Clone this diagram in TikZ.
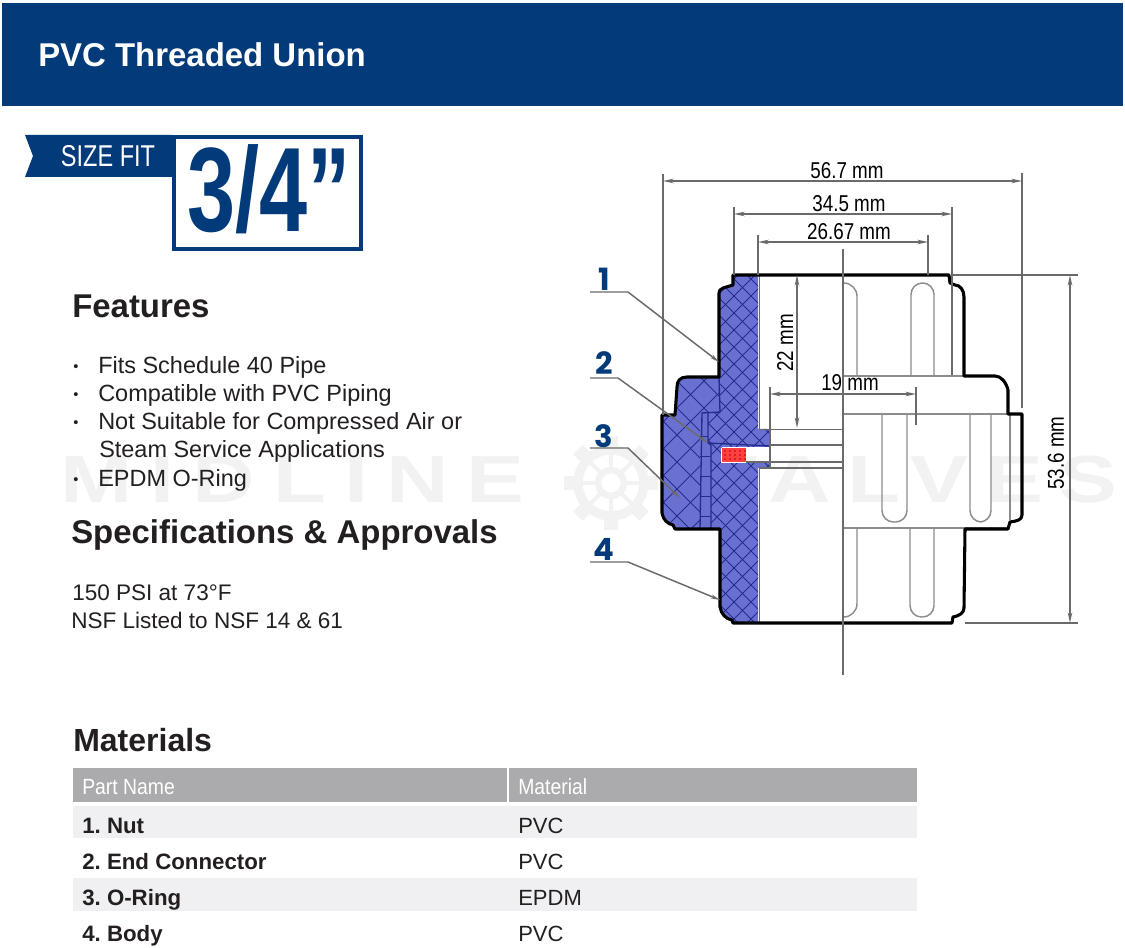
\documentclass[tikz,border=0pt]{standalone}
\usepackage{fontspec}
\setmainfont{Liberation Sans}
\newfontfamily\dimfont[FakeStretch=0.82]{Liberation Sans}
\newfontfamily\ribbonfont[FakeStretch=0.78]{Liberation Sans}
\newfontfamily\sizefont[FakeStretch=0.72]{Liberation Sans}
\newfontfamily\thfont[FakeStretch=0.88]{Liberation Sans}
\newfontfamily\partfont{Poppins}
\newfontfamily\markfont[FakeStretch=1.3,LetterSpace=27]{Liberation Sans}
\newfontfamily\markfontb[FakeStretch=1.3,LetterSpace=25]{Liberation Sans}
\usetikzlibrary{arrows.meta}
\frenchspacing
\definecolor{navy}{HTML}{023A7A}
\definecolor{inktext}{HTML}{231F20}
\definecolor{cutblue}{HTML}{6A70CF}
\definecolor{hatchblue}{HTML}{222C8E}
\definecolor{dimgrey}{HTML}{6A6A6A}
\definecolor{slotgrey}{HTML}{8C8C8C}
\definecolor{headgrey}{HTML}{ABABAD}
\definecolor{rowgrey}{HTML}{F0F0F2}
\definecolor{markgrey}{HTML}{F2F2F2}
\tikzset{
  txt/.style={anchor=base west,inner sep=0pt,text=inktext},
  listtxt/.style={txt,font=\fontsize{17.6}{20}\selectfont},
  spectxt/.style={txt,font=\fontsize{16.9}{20}\selectfont},
  bullettxt/.style={txt,font=\fontsize{11}{12}\selectfont},
  headtxt/.style={txt,font=\fontsize{24.7}{28}\selectfont\bfseries},
  rowtxt/.style={txt,font=\fontsize{16.5}{20}\selectfont},
  thtxt/.style={txt,text=white,font=\thfont\fontsize{16.5}{20}\selectfont},
  dimtxt/.style={inner sep=0pt,text=black,font=\dimfont\fontsize{17.2}{20}\selectfont},
  parttxt/.style={inner sep=0pt,text=navy,font=\partfont\fontsize{23}{26}\selectfont\bfseries},
  outline/.style={draw=black,line width=2.3pt,line join=round},
  dimline/.style={draw=dimgrey,line width=1.1pt,{Stealth[length=8pt,width=3.4pt]}-{Stealth[length=8pt,width=3.4pt]}},
  extline/.style={draw=dimgrey,line width=1.1pt},
  slot/.style={draw=slotgrey,line width=1.1pt,rounded corners=8.6pt},
  inner/.style={draw=hatchblue,line width=1pt},
  hatch/.style={draw=hatchblue,line width=0.7pt},
  leader/.style={draw=dimgrey,line width=1.1pt,-{Stealth[length=7pt,width=3pt]}},
}
\begin{document}
\begin{tikzpicture}[x=0.75pt,y=-0.75pt]
\useasboundingbox (0,0) rectangle (1125,948);

% watermark
\node[inner sep=0pt,anchor=base west,text=markgrey,font=\markfont\fontsize{50}{54}\selectfont\bfseries] (markleft) at (60,503) {MIDLINE};
\node[inner sep=0pt,anchor=base east,text=markgrey,font=\markfontb\fontsize{50}{54}\selectfont\bfseries] (markright) at (1118,503) {VALVES};
\draw[markgrey,line width=7pt] (611,483) circle (33);
\draw[markgrey,line width=5pt] (611,483) circle (13);
\foreach \a in {0,45,...,315} {
  \draw[markgrey,line width=10pt] (611,483) ++(\a:36) -- ++(\a:11);
  \draw[markgrey,line width=3pt] (611,483) ++(\a:13) -- ++(\a:20);
}

% header
\fill[navy] (2,3) rectangle (1123,106);
\node[anchor=base west,inner sep=0pt,text=white,font=\fontsize{24.7}{28}\selectfont\bfseries] (title) at (38,67) {PVC Threaded Union};

% size badge
\fill[navy] (25,135) -- (172,135) -- (172,177) -- (25,177) -- (33,156) -- cycle;
\node[inner sep=0pt,text=white,font=\ribbonfont\fontsize{22.6}{24}\selectfont] (ribbon) at (108,156) {SIZE FIT};
\draw[navy,line width=2.7pt,fill=white] (174,137) rectangle (361,249);
\node[anchor=base west,inner sep=0pt,text=navy,font=\sizefont\fontsize{90}{93}\selectfont\bfseries] (size) at (187,232) {3/4”};

% features
\node[headtxt] (features) at (72,318) {Features};
\foreach \y/\t/\n in {374/Fits Schedule 40 Pipe/f1,402/Compatible with PVC Piping/f2,430/Not Suitable for Compressed Air or/f3,487/EPDM O-Ring/f5} {
  \node[listtxt] (\n) at (98,\y) {\t};
  \node[bullettxt] (b\n) at (73,\y-2) {\textbullet};
}
\node[listtxt] (f4) at (99,458) {Steam Service Applications};
\node[headtxt] (specs) at (71,543) {Specifications \& Approvals};
\node[spectxt] (s1) at (72,600) {150 PSI at 73°F};
\node[spectxt] (s2) at (71,628) {NSF Listed to NSF 14 \& 61};

% materials table
\node[headtxt,font=\fontsize{24}{28}\selectfont\bfseries] (materials) at (73,751) {Materials};
\fill[headgrey] (73,768) rectangle (507,802);
\fill[headgrey] (509,768) rectangle (917,802);
\fill[rowgrey] (73,806) rectangle (917,838);
\fill[rowgrey] (73,878) rectangle (917,911);
\node[thtxt] (hpart) at (82,794) {Part Name};
\node[thtxt] (hmat) at (518,794) {Material};
\foreach \y/\p/\m/\n in {833/1. Nut/PVC/r1,869/2. End Connector/PVC/r2,905/3. O-Ring/EPDM/r3,941/4. Body/PVC/r4} {
  \node[rowtxt,font=\fontsize{16.7}{20}\selectfont\bfseries] (\n p) at (82,\y) {\p};
  \node[rowtxt] (\n m) at (518,\y) {\m};
}

% section, nut
\fill[cutblue] (719,377) -- (687,377) .. controls (680,377) and (677,381) .. (677,387) -- (675,415) -- (662,415) -- (662,513) .. controls (663,520) and (668,524) .. (673,525) -- (675,529) -- (720,529) -- (720,412) -- cycle;
\begin{scope}
\clip (719,377) -- (687,377) .. controls (680,377) and (677,381) .. (677,387) -- (675,415) -- (662,415) -- (662,513) .. controls (663,520) and (668,524) .. (673,525) -- (675,529) -- (700,529) -- (700,413) -- (719,413) -- cycle;
\foreach \c in {300,327,...,650} {
  \draw[hatch] (650,\c) -- ++(90,90);
  \draw[hatch] (650,\c) -- ++(90,-90);
}
\end{scope}
\foreach \y in {436,456,476,496,516} {
  \draw[hatch] (700,\y) -- (711,\y);
}

% section, body
\fill[cutblue] (733,275) -- (733,285) -- (723,288) -- (719,293) -- (719,412) -- (708,413) -- (708,445) -- (711,445) -- (711,529) -- (720,529) -- (720,607) .. controls (721,614) and (726,619) .. (732,620) -- (733,623) -- (758,623) -- (758,468) -- (770,467) -- (770,462) -- (722,462) -- (722,447) -- (770,447) -- (770,429) -- (758,429) -- (758,275) -- cycle;
\begin{scope}
\clip (733,275) -- (733,285) -- (723,288) -- (719,293) -- (719,412) -- (708,413) -- (708,445) -- (711,445) -- (711,529) -- (720,529) -- (720,607) .. controls (721,614) and (726,619) .. (732,620) -- (733,623) -- (758,623) -- (758,468) -- (770,467) -- (770,462) -- (722,462) -- (722,447) -- (770,447) -- (770,429) -- (758,429) -- (758,275) -- cycle;
\foreach \c in {160,177,...,770} {
  \draw[hatch] (700,\c) -- ++(90,90);
  \draw[hatch] (700,\c) -- ++(90,-90);
}
\end{scope}
\draw[inner] (719,377) -- (720,412) -- (702,413) -- (700,529);
\draw[inner] (708,413) -- (708,443) -- (711,445) -- (711,529);
\draw[inner] (708,443) -- (770,446);

% o-ring
\fill[white] (720.5,448) rectangle (746,463.5);
\fill[red!75!white] (722,448) rectangle (746,462);
\foreach \x in {725,730,...,745} {
  \foreach \y in {451,455,459} {
    \fill[red!70!black] (\x,\y) circle (0.8);
  }
}

% inner edges
\draw[extline,line width=0.6pt] (759,275) -- (759,429) -- (843,429);
\draw[extline] (770,429) -- (770,468) -- (843,468);
\draw[extline] (770,445) -- (843,445);
\draw[extline,line width=1.4pt] (746,462) -- (843,462);
\draw[extline] (759,468) -- (770,468);
\draw[extline,line width=0.6pt] (759,468) -- (759,623);

% slots
\draw[slot,rounded corners=10pt] (843,283) -- (857,283) -- (857,376);
\draw[slot] (911,376) -- (911,283) -- (934,283) -- (934,376);
\draw[slot,rounded corners=10pt] (843,617) -- (857,617) -- (857,529);
\draw[slot] (910,529) -- (910,617) -- (934,617) -- (934,529);
\draw[slot] (882,414) -- (882,522) -- (907,522) -- (907,414);
\draw[slot] (970,414) -- (970,522) -- (991,522) -- (991,414);
\draw[slot,rounded corners=0pt] (1010,414) -- (1010,520);
\draw[slot,rounded corners=0pt] (843,376) -- (964,376);
\draw[slot,rounded corners=0pt] (843,414) -- (1008,414);
\draw[slot,rounded corners=0pt] (843,528) -- (1008,528);

% outline
\draw[outline] (733,275) -- (733,285) -- (723,288) .. controls (720,289) and (719,291) .. (719,293) -- (719,377) -- (687,377) .. controls (680,377) and (677,381) .. (677,387) -- (675,415) -- (662,415) -- (662,513) .. controls (663,520) and (668,524) .. (673,525) -- (675,529) -- (720,529) -- (720,607) .. controls (721,614) and (726,619) .. (732,620) -- (733,623) -- (952,623) -- (953,617) .. controls (959,616) and (964,613) .. (964,608) -- (965,529) -- (1008,529) -- (1010,522) .. controls (1017,521) and (1022,520) .. (1022,515) -- (1022,414) -- (1008,414) -- (1008,390) .. controls (1006,382) and (1001,376) .. (995,376) -- (964,376) -- (964,297) .. controls (964,290) and (960,285) .. (955,285) -- (950,283) -- (949,275) -- cycle;

% dimensions
\coordinate (d1a) at (663,181);
\coordinate (d1b) at (1022,181);
\coordinate (d2a) at (734,214);
\coordinate (d2b) at (952,214);
\coordinate (d3a) at (758,242);
\coordinate (d3b) at (928,242);
\coordinate (d4a) at (797,275);
\coordinate (d4b) at (797,428);
\coordinate (d5a) at (770,394);
\coordinate (d5b) at (916,394);
\coordinate (d6a) at (1070,275);
\coordinate (d6b) at (1070,623);
\draw[extline] (663,174) -- (663,415);
\draw[extline] (1022,173) -- (1022,408);
\draw[extline] (734,207) -- (734,275);
\draw[extline] (952,207) -- (952,375);
\draw[extline] (758,235) -- (758,275);
\draw[extline] (928,235) -- (928,275);
\draw[extline] (843,249) -- (843,675);
\draw[extline] (770,387) -- (770,429);
\draw[extline] (916,387) -- (916,425);
\draw[extline] (952,275) -- (1078,275);
\draw[extline] (965,623) -- (1078,623);
\draw[dimline] (d1a) -- (d1b);
\draw[dimline] (d2a) -- (d2b);
\draw[dimline] (d3a) -- (d3b);
\draw[dimline] (d4a) -- (d4b);
\draw[dimline] (d5a) -- (d5b);
\draw[dimline] (d6a) -- (d6b);
\node[dimtxt] (t1) at (847,171) {56.7 mm};
\node[dimtxt] (t2) at (849,204) {34.5 mm};
\node[dimtxt] (t3) at (849,232) {26.67 mm};
\node[dimtxt,rotate=90] (t4) at (785,343) {22 mm};
\node[dimtxt] (t5) at (850,383) {19 mm};
\node[dimtxt,rotate=90] (t6) at (1056,453) {53.6 mm};

% part labels
\node[parttxt] (p1) at (604,279) {1};
\node[parttxt] (p2) at (604,363) {2};
\node[parttxt] (p3) at (604,436) {3};
\node[parttxt] (p4) at (604,549) {4};
\coordinate (e1) at (719,362);
\coordinate (e2) at (708,443);
\coordinate (e3) at (680,498);
\coordinate (e4) at (720,600);
\draw[leader] (590,292) -- (628,292) -- (e1);
\draw[leader] (590,378) -- (618,378) -- (e2);
\draw[leader] (590,448) -- (628,448) -- (e3);
\draw[leader] (590,562) -- (628,562) -- (e4);
\end{tikzpicture}
\end{document}
